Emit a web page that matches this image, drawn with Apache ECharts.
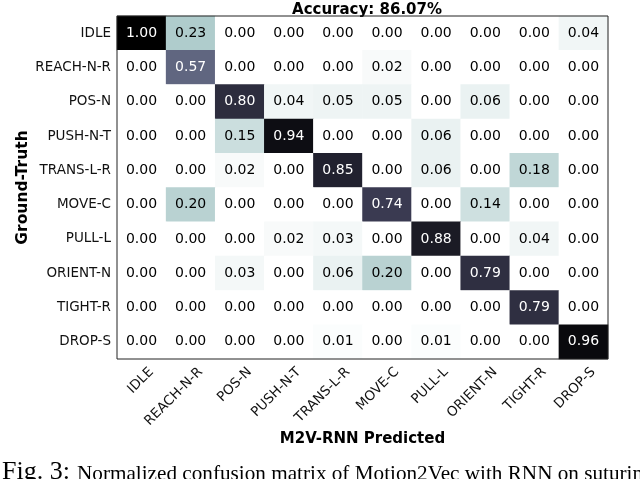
<!DOCTYPE html>
<html>
<head>
<meta charset="utf-8">
<script src="https://cdn.jsdelivr.net/npm/echarts@6/dist/echarts.min.js"></script>
<style>html,body{margin:0;padding:0;background:#fff;}#c{width:640px;height:479px;}</style>
</head>
<body>
<div id="c"></div>
<script>
const categories = ['IDLE','REACH-N-R','POS-N','PUSH-N-T','TRANS-L-R','MOVE-C','PULL-L','ORIENT-N','TIGHT-R','DROP-S'];
const matrix = [
  [1.00,0.23,0.00,0.00,0.00,0.00,0.00,0.00,0.00,0.04],
  [0.00,0.57,0.00,0.00,0.00,0.02,0.00,0.00,0.00,0.00],
  [0.00,0.00,0.80,0.04,0.05,0.05,0.00,0.06,0.00,0.00],
  [0.00,0.00,0.15,0.94,0.00,0.00,0.06,0.00,0.00,0.00],
  [0.00,0.00,0.02,0.00,0.85,0.00,0.06,0.00,0.18,0.00],
  [0.00,0.20,0.00,0.00,0.00,0.74,0.00,0.14,0.00,0.00],
  [0.00,0.00,0.00,0.02,0.03,0.00,0.88,0.00,0.04,0.00],
  [0.00,0.00,0.03,0.00,0.06,0.20,0.00,0.79,0.00,0.00],
  [0.00,0.00,0.00,0.00,0.00,0.00,0.00,0.00,0.79,0.00],
  [0.00,0.00,0.00,0.00,0.01,0.00,0.01,0.00,0.00,0.96]
];
const titleText = 'Accuracy: 86.07%';
const xName = 'M2V-RNN Predicted';
const yName = 'Ground-Truth';
const captionHead = 'Fig. 3:';
const captionBody = 'Normalized confusion matrix of Motion2Vec with RNN on suturing';

// matplotlib "bone_r" colormap
function boneR(v){
  const t = 1 - v;
  function seg(pts){
    for (let i=1;i<pts.length;i++){
      if (t <= pts[i][0]){
        const a=pts[i-1], b=pts[i];
        return a[1] + (b[1]-a[1])*(t-a[0])/(b[0]-a[0]);
      }
    }
    return pts[pts.length-1][1];
  }
  const r = seg([[0,0],[0.746032,0.652778],[1,1]]);
  const g = seg([[0,0],[0.365079,0.319444],[0.746032,0.777778],[1,1]]);
  const b = seg([[0,0],[0.365079,0.444444],[1,1]]);
  const h = x => Math.round(x*255).toString(16).padStart(2,'0');
  return '#'+h(r)+h(g)+h(b);
}
const cmap = [];
for (let i=0;i<=40;i++) cmap.push(boneR(i/40));

const data = [];
matrix.forEach((row, r) => row.forEach((v, c) => {
  data.push({value:[c, r, v], label:{color: v > 0.5 ? '#ffffff' : '#000000'}});
}));

const FONT = 'DejaVu Sans';
const G = {left:117, top:16, width:491, height:343};
const chart = echarts.init(document.getElementById('c'));
chart.setOption({
  animation:false,
  backgroundColor:'#fff',
  title:{text:titleText, left:362, top:-2, textAlign:'center',
    textStyle:{fontFamily:FONT, fontWeight:'bold', fontSize:15, color:'#000'}},
  grid:{left:G.left, top:G.top, width:G.width, height:G.height},
  xAxis:{type:'category', data:categories, name:xName, nameLocation:'middle', nameGap:73,
    nameMoveOverlap:false,
    nameTextStyle:{fontFamily:FONT, fontWeight:'bold', fontSize:15, color:'#000'},
    axisLine:{show:false}, axisTick:{show:false}, splitLine:{show:false},
    axisLabel:{rotate:45, fontFamily:FONT, fontSize:13.5, color:'#111', margin:1, interval:0,
      verticalAlign:'top', lineHeight:28}},
  yAxis:{type:'category', data:categories, inverse:true, name:yName, nameLocation:'middle', nameGap:86,
    nameMoveOverlap:false,
    nameTextStyle:{fontFamily:FONT, fontWeight:'bold', fontSize:15.5, color:'#000'},
    axisLine:{show:false}, axisTick:{show:false}, splitLine:{show:false},
    axisLabel:{fontFamily:FONT, fontSize:13.5, color:'#111', margin:6, interval:0}},
  visualMap:{show:false, min:0, max:1, dimension:2, inRange:{color:cmap}},
  series:[{type:'heatmap', data:data,
    label:{show:true, fontFamily:FONT, fontSize:14, formatter:p=>p.value[2].toFixed(2)},
    itemStyle:{borderWidth:0}, emphasis:{disabled:true}}],
  graphic:[
    {type:'rect', shape:{x:G.left, y:G.top, width:G.width, height:G.height}, z:100,
      style:{fill:'none', stroke:'#222', lineWidth:1}},
    {type:'text', x:2, y:472, z:100,
      style:{text:captionHead, fontFamily:'Liberation Serif', fontSize:26, fill:'#000', verticalAlign:'middle'}},
    {type:'text', x:77, y:474, z:100,
      style:{text:captionBody, fontFamily:'Liberation Serif', fontSize:21.2, fill:'#000', verticalAlign:'middle'}}
  ]
});
</script>
</body>
</html>
